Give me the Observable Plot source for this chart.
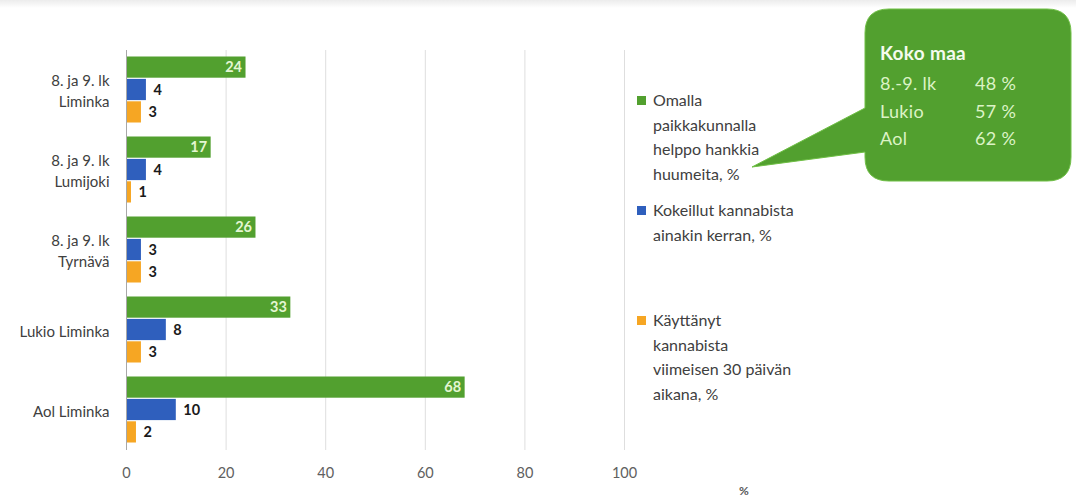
<!DOCTYPE html>
<html><head><meta charset="utf-8">
<script src="https://cdn.jsdelivr.net/npm/d3@7"></script>
<script src="https://cdn.jsdelivr.net/npm/@observablehq/plot@0.6"></script>
<style>
body{margin:0;background:#fff;font-family:Lato,"Noto Sans",sans-serif;}
#wrap{position:relative;width:1076px;height:500px;overflow:hidden;background:#fff;}
#shade{position:absolute;left:0;top:0;width:1076px;height:8px;background:linear-gradient(#ececec,#fff);}
.leg{position:absolute;left:653px;font-size:16px;line-height:24.5px;color:#404040;}
.sw{position:absolute;width:9px;height:9px;left:-16px;top:8px;}
#pct{position:absolute;left:739px;top:483px;font-size:12px;font-weight:bold;color:#595959;}
#callout{position:absolute;left:0;top:0;}
.ct{position:absolute;font-size:18px;color:#dcf3c6;line-height:28px;letter-spacing:0.3px;}
</style></head><body><div id="wrap"><div id="shade"></div></div>
<script>
const categories = ["8. ja 9. lk\nLiminka", "8. ja 9. lk\nLumijoki", "8. ja 9. lk\nTyrnävä", "Lukio Liminka", "Aol Liminka"];
const seriesKeys = ["helppo", "kokeillut", "kayttanyt"];
const seriesNames = [
  ["Omalla", "paikkakunnalla", "helppo hankkia", "huumeita, %"],
  ["Kokeillut kannabista", "ainakin kerran, %"],
  ["Käyttänyt", "kannabista", "viimeisen 30 päivän", "aikana, %"]
];
const helppo = [24, 17, 26, 33, 68];
const kokeillut = [4, 4, 3, 8, 10];
const kayttanyt = [3, 1, 3, 3, 2];
const xTicks = [0, 20, 40, 60, 80, 100];
const kokoMaaTitle = "Koko maa";
const kokoMaaLabels = ["8.-9. lk", "Lukio", "Aol"];
const kokoMaaValues = [48, 57, 62];
const colors = ["#52a02f", "#2f5fbd", "#f6a623"];

const values = [helppo, kokeillut, kayttanyt];
const seriesData = values.map(vals => categories.map((c, i) => ({cat: c, v: vals[i]})));

const H = 500, mT = 50, mB = 50, pIn = 0.16, pOut = 0.08;
const step = (H - mT - mB) / (categories.length - pIn + 2 * pOut);
const band = step * (1 - pIn);
const third = band / 3;

const barMarks = seriesData.map((d, j) => Plot.barX(d, {
  y: "cat", x: "v", fill: colors[j],
  insetTop: j * third + 0.5, insetBottom: (2 - j) * third + 0.5
}));
const labelMarks = seriesData.map((d, j) => Plot.text(d, {
  y: "cat", x: "v", text: r => String(r.v),
  dy: (j - 1) * third,
  dx: j === 0 ? -4 : 7,
  textAnchor: j === 0 ? "end" : "start",
  fill: j === 0 ? "#e4f6d2" : "#1a1a1a",
  fontWeight: "bold", fontSize: 14.5
}));

const plot = Plot.plot({
  width: 1076, height: H,
  marginLeft: 126, marginRight: 452, marginTop: mT, marginBottom: mB,
  style: {fontFamily: "Lato, 'Noto Sans', sans-serif", fontSize: "14px", color: "#595959", background: "transparent"},
  x: {domain: [0, 100], axis: null},
  y: {domain: categories, paddingInner: pIn, paddingOuter: pOut, axis: null},
  marks: [
    Plot.ruleX(xTicks.filter(d => d > 0), {stroke: "#dedede"}),
    ...barMarks,
    Plot.ruleX([0], {stroke: "#a8a8a8"}),
    ...labelMarks,
    Plot.axisX({ticks: xTicks, tickSize: 0, tickPadding: 17, label: null, fill: "#606060", fontSize: 14.5}),
    Plot.axisY({anchor: "left", tickSize: 0, tickPadding: 17, label: null, fill: "#404040", fontSize: 15, lineHeight: 1.4, style: {letterSpacing: "0.4px"}})
  ]
});
const wrap = document.getElementById("wrap");
plot.style.position = "absolute"; plot.style.left = "0"; plot.style.top = "0";
wrap.appendChild(plot);

// legend
const legTops = [88, 198, 308];
seriesNames.forEach((lines, j) => {
  const d = document.createElement("div");
  d.className = "leg";
  d.style.top = legTops[j] + "px";
  d.innerHTML = `<span class="sw" style="background:${colors[j]}"></span>` + lines.join("<br>");
  wrap.appendChild(d);
});
const pct = document.createElement("div"); pct.id = "pct"; pct.textContent = "%"; wrap.appendChild(pct);

// callout shape
const svg = d3.select(wrap).append("svg").attr("id", "callout").attr("width", 1076).attr("height", 500);
const x0 = 865, y0 = 9, x1 = 1071, y1 = 181, r = 24;
const path = `M${x0 + r},${y0} H${x1 - r} Q${x1},${y0} ${x1},${y0 + r} V${y1 - r} Q${x1},${y1} ${x1 - r},${y1} H${x0 + r} Q${x0},${y1} ${x0},${y1 - r} V152 L752,167 L${x0},108 V${y0 + r} Q${x0},${y0} ${x0 + r},${y0} Z`;
svg.append("path").attr("d", path).attr("fill", "#52a02f").attr("stroke", "#6fbf45").attr("stroke-width", 1);

const title = document.createElement("div");
title.className = "ct"; title.style.left = "880px"; title.style.top = "39px";
title.style.fontWeight = "bold"; title.style.fontSize = "19px"; title.style.color = "#f4fbee"; title.textContent = kokoMaaTitle;
wrap.appendChild(title);
kokoMaaLabels.forEach((l, i) => {
  const a = document.createElement("div"); a.className = "ct";
  a.style.left = "880px"; a.style.top = (69 + i * 27.5) + "px"; a.textContent = l; wrap.appendChild(a);
  const b = document.createElement("div"); b.className = "ct";
  b.style.left = "975px"; b.style.top = (69 + i * 27.5) + "px"; b.textContent = kokoMaaValues[i] + " %"; wrap.appendChild(b);
});
</script></body></html>
